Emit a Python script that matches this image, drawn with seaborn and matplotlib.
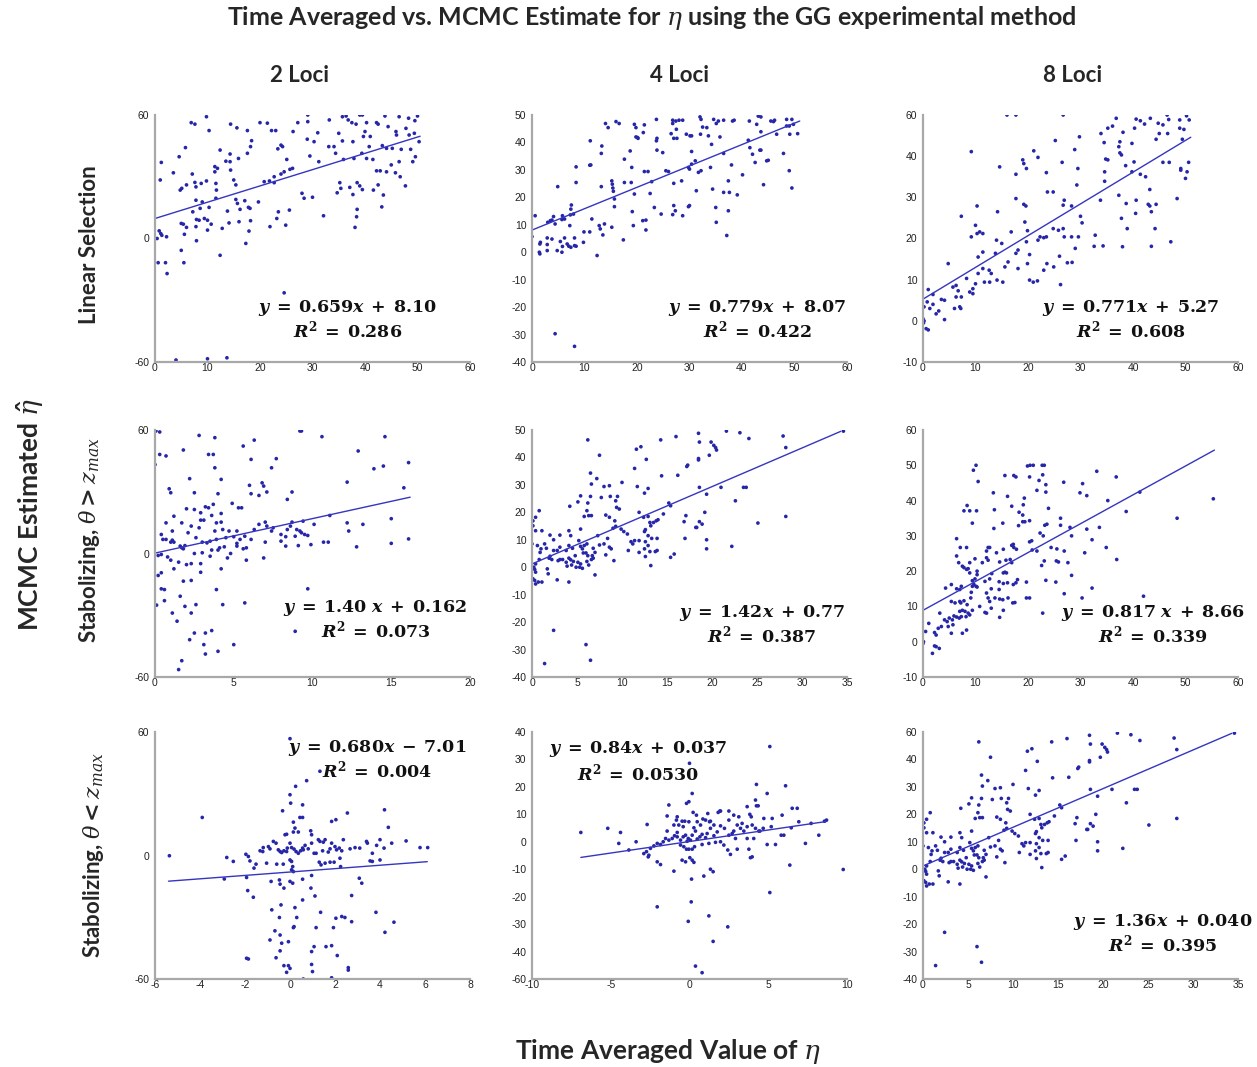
import matplotlib
matplotlib.use("Agg")
import matplotlib.pyplot as plt
import seaborn as sns
import pandas as pd

# ---------------- data ----------------
lin2_pts = [(9.8,49.3),(29.1,50),(29.1,47.3),(33.2,48),(35.7,49.3),(36.4,49.6),(39,50),(39.5,50),(43.8,49.6),(46.5,49.3),(50,49.6),(48.3,48.7),
(6.9,46.9),(7.6,46.3),(14.4,46.3),(15.6,44.8),(20,46.9),(21.4,46.7),(27.2,46.9),(36.8,48),(37.5,46.9),(38.3,46.3),(40.3,46.9),(42.2,46.9),(42.5,46.3),(44.4,45.3),(47.8,44.6),(49.5,47.7),
(10.3,43.7),(17.6,43.7),(22.2,43.7),(23,43.7),(26.3,43.3),(31,42.8),(35,42.6),(40,43.3),(41,41.3),(45.9,43.3),(46,41.9),(48.4,41.9),(49.4,42.6),(39.7,41.3),
(29,40.2),(30.3,39.2),(37.7,39.2),(35.7,39.5),(33.1,37.2),(34.1,37.2),(18.4,39.6),(18.2,37.2),(12.4,35.8),(24,37.8),(24.3,37.2),(23.4,36.3),(40.8,37.2),(43.3,37.6),(50.3,39.2),(44.1,36.5),(45.2,36.5),(46.9,36.1),(48.7,36.1),
(5.8,36.8),(14.3,34.2),(4.6,33.1),(13.5,31.3),(15.9,32.4),(17.6,34.5),(25.1,32),(26.2,28.4),(29.5,33.4),(31.2,31.1),(34.4,34.5),(35.9,32),(37.9,32.4),(40.3,32.4),(41.5,32),(45,29.8),(46.5,31.1),(49.1,31.1),(49.6,33.1),(39.4,34.5),
(1.2,30.8),(11.4,29.1),(11.9,28.4),(11.4,27),(14.4,27.7),(3.5,26.6),(7.1,26.1),(14.3,31.1),(25.7,28),(24.6,27),(24,26.1),(22.7,25),(42.2,27.4),(42.9,27.4),(44.1,27),(45.8,26.6),(46.7,25),
(1,23.7),(6,21.7),(5.1,20.3),(4.8,19.6),(7.6,22.7),(8.8,22.3),(9.8,23.3),(7.8,20.9),(11.6,22.3),(11.7,19.6),(15,23.7),(15.4,21.7),(20.8,23),(21.8,23.3),(22.7,22.6),(35.2,22.6),(37.1,20.7),(38.5,22.6),(39,21.3),(39.5,19.8),(35.4,20.3),(37.7,17.8),(42.5,21.7),(43.5,17.6),(47.7,21.3),(41.6,19.6),(34.7,18.5),
(7.8,15.5),(9,14.8),(11.6,16.3),(15.4,15.8),(15.7,14.2),(17.1,15.3),(17.8,12.6),(19.7,14.8),(16.2,11.8),(18.1,12.2),(8.6,12.2),(10.3,12.6),(7.2,10.8),(13.8,11.1),(23.5,10.8),(25.6,11.5),(28,18.3),(28.4,16.3),(30,16.7),(43.2,12.8),(38.5,11.8),
(5,6.1),(5.4,5.8),(6,4.5),(5.6,1.7),(7.9,7.7),(8.4,7.4),(9.4,8.1),(10,7.4),(10.7,5.8),(7.8,4.8),(10,3.4),(12.8,4.1),(14.1,6.3),(16,6.8),(18.2,7.2),(17.9,3),(21.9,4.8),(23.2,8.1),(24.9,5.4),(32.1,9.2),(38.1,4.5),(38.4,8.8),
(0.8,3.1),(1.1,2),(2.2,0.7),(1.3,1.3),(0.4,0),(7.9,-0.9),(17.3,-2),(5,-4.8),(12.4,-6.8),(0.6,-9.8),(2,-9.8),(2.3,-14.2),(5.5,-9.8),(24.6,-22),(4,-49.2),(10,-48.7),(13.7,-48.3)]

lin4_pts = [(14,46.9),(14.5,45.4),(16,47.6),(16.6,46.9),(19.5,46.6),(19.8,45.4),(21.4,46.4),(21.2,43.6),(20.1,41.8),(19.8,42),(20.2,41.5),(23.7,48.4),(23.8,41.5),(23.7,40.6),(26.8,48.1),(27.4,47.8),(28,48.1),(28.7,48.1),(26.8,46.9),(27.5,44.8),(26.5,43.2),(27,41.5),(27.6,41.5),(32,49.3),(32.2,48.4),(32.5,45.6),(33.3,45.4),(32.1,43),(33.6,42.4),(29.4,43),(30.1,42.4),(34.6,48.4),(35.1,46.9),(35.5,47.8),(36.5,48.1),(35.8,42),(34.2,39.3),(38.5,48.1),(38.2,47.8),(41.4,47.8),(43.1,49.6),(43.6,49.3),(42.8,46.6),(43.6,43.9),(45.5,47.8),(46.2,48.1),(46,47.6),(48.5,48.4),(49.5,48.4),(48.5,46),(49,46),(49.8,46.6),(46.6,43),(49.1,43),(50.6,43.2),(41.2,40.8),(41.5,38.1),(42,35.7),(42.5,32.7),(43.4,37.2),(43.6,37.2),(44.7,33.3),(45,33.5),(44.1,24.6),(47.9,36),(49,29.7),(49.5,23.4),(40.1,28.2),(38,31.8),(37.4,26),(36.5,36),(36.5,21.8),(37.6,21.8),(39.1,20.9),(37.4,15.1),(37.1,6.1),(35,16.3),(35.1,10.9),(34.4,23),(34,30.9),(32.2,29.7),(31.7,29.1),(31.1,33.3),(30.4,32.1),(29.8,30.9),(30,30.3),(30.4,36.7),(30.4,42.4),(31.3,22.4),(30,17),(29.8,16.6),(28.5,26),(28.7,13.3),(27,17),(27.3,15.1),(27,25.1),(26.8,13.7),(25.5,29.7),(26,29.4),(24.6,13.9),(24.9,36.3),(23.8,37.2),(22.8,25.7),(23.3,16.3),(22.1,29.4),(21.4,29.4),(22.5,21.4),(21.1,11.5),(21.7,11.7),(21.7,8.1),(18.7,36.9),(19,30.9),(18.9,25.4),(19.5,21.2),(19.1,14.8),(19.3,9.7),(17.6,33.9),(17.6,25.4),(17.4,4.5),(15.2,26),(15.3,24.8),(15.4,23.4),(15.5,22.2),(15.7,19.4),(15.7,16.6),(15.2,9.1),(13.3,38.7),(13.2,36),(13.2,23.9),(12.8,9.7),(13,8.5),(13.5,6.3),(13.8,10.3),(11.1,40.6),(11,31.7),(11.2,31.8),(11.4,12.1),(11,7.4),(9.8,3.6),(9.9,7.4),(12.4,-1.2),(8.4,31.1),(8.4,25.4),(7.5,17.2),(7.4,15.7),(7.9,13.9),(7.3,13.6),(8.1,5.2),(8.1,2.4),(7.4,1.8),(8.4,2.2),(7.2,9.7),(5.8,13.3),(5.7,11.9),(6.2,12.1),(6.2,5.2),(5.4,3.9),(5.8,2.1),(6.7,3),(7,2.2),(5.7,0),(4.9,23.9),(4.1,13),(4.4,10.3),(3.8,11.7),(3.5,11.5),(3,10.9),(3.8,4.8),(2.9,5.2),(2.9,2.8),(2.9,0.6),(4.8,0.6),(1.6,3.6),(1.5,3),(1.4,0),(1.5,-0.6),(0.6,13.3),(0,5.7),(4.4,-29.7),(8.1,-34.3)]

lin8_pts = [(16,50),(17.7,50),(26.7,50),(36.8,49.2),(40.6,49),(41.4,48.6),(42.2,47.8),(43.3,49.2),(44.8,48),(46.5,50),(46.8,48.9),(48.9,48.8),(50.2,49.8),(50.7,48.8),(35.2,46.8),(33.9,45.5),(36.1,47.3),(38.1,45.8),(40.3,46.8),(45,45.5),(46.6,45.5),(48.9,46.8),(49.7,46.5),(45.7,47.6),
(25.2,43.8),(29.8,44.7),(34.5,43.3),(37.5,43.5),(39.8,43.1),(44.4,44.1),(49.4,44.1),(28.9,41.6),(21.1,41.3),(9.2,41.1),(21.9,39.7),(19,39.1),(19.2,38.2),(34.8,39.3),(35.2,39.1),(37.3,42.3),(37.5,40.8),(37.8,40.3),(45.7,38.5),(46.9,38.5),(50.6,38.5),(26.5,38.5),(29.5,37),(19.7,37),(14.6,37.4),(17.7,35.6),(23.5,36),(34.6,36.2),(34.6,33.9),(39.8,36.2),(41.4,35.6),(42.4,35),(38.6,37.7),(40.2,38.6),(49.1,37),(49.1,36.6),(50,34.6),(50.3,36.2),
(43.2,31.9),(26.9,29.3),(29.3,33),(33.8,29.3),(37.3,30.5),(38.7,28.5),(40.6,29.3),(42.9,28.3),(43.2,27.9),(44.4,28.3),(43.5,26.5),(40.5,26.1),(48.4,29.7),(17.7,29.7),(14.2,26.5),(10.3,27.9),(19.2,28.3),(19.6,27.9),(19.4,24),(23.7,31.3),(24.8,31.3),(26.7,28.1),(28.3,27.9),(30,25.4),(30.3,23.8),(26.7,22.4),(24.8,22.4),(25.8,22),(37.8,24.9),(38.9,22.4),(44.2,22.4),(38,18),(43.5,18.1),(47.2,19.2),(32.6,18.1),(34.3,18.2),(32.8,20.8),(29,17.6),(29.6,20.4),(28.3,20.4),(26.9,20.4),(27.5,14.1),(28.4,14.2),(26,15.7),(24.9,13.1),(26.2,8.8),
(23.5,20.4),(23,20.2),(22.3,20.4),(21.9,19.6),(23.6,13.9),(23,12.3),(21.8,9.7),(19.9,21.9),(19.7,19.2),(20.3,16.1),(19.9,13.9),(20.3,9.9),(21,9.4),(18.1,17.2),(17.7,16.4),(18.1,12.7),(16.8,21.6),(16.2,14.3),(15.6,13.1),(15,18.8),(14,19.6),(13.8,16.4),(14.1,9.9),(15.2,9.4),(12.7,9.4),(11.7,9.4),(13,11.5),(12.6,12.3),(11.4,12.7),(11.4,16.7),(10.8,21.6),(10.3,21.2),(11.4,21.2),(9.2,20.4),(10,23.2),(7.3,25.4),(10.5,15.5),(10.5,11.5),
(9.5,7.8),(9.5,6.6),(10,9),(8.9,7),(8.3,10.3),(6.7,7.3),(7.3,5.8),(7.2,3),(7,3.4),(6.3,5.8),(5.7,8.2),(6.3,8.6),(6,3),(4.8,13.9),(4.1,5),(4.1,0.3),(3,2.4),(3.5,5.2),(2.5,1.7),(1.9,6.4),(1.9,4),(1.3,3),(0.8,4.6),(1,7.6),(0.2,3.4),(0,0.5),(0.2,0),(0.6,-1.9),(1,-2.2),(0.1,-0.5)]

gt2_pts = [(0.06,49.6),(0.3,49.2),(0,36),(0.3,40.1),(0.7,39.5),(1.8,41.9),(2.8,47.8),(3.4,40.1),(3.7,40.1),(3.8,46.9),(3.8,34.7),(4.2,30),(6.3,45.9),(5.6,43.5),(6.1,38.1),(7.4,34.7),(7.7,38.4),(9.2,49.6),(9.3,49.6),(10.6,47.3),(12.9,41.5),(14.6,47.3),(13.9,34.3),(14.5,35.4),(16.1,36.8),(12.2,28.9),(15.8,26.6),
(0.9,26.2),(1,24.6),(2.2,30.3),(2.5,24.6),(4,24.2),(6,27.6),(6.1,24.2),(6.6,23.5),(6.8,28.6),(6.9,27.3),(7.1,24.9),(8.7,24.9),(8.4,21.9),(3.2,18.9),(3.4,18.5),(2.5,17.8),(2.9,16.5),(2,18.1),(3.7,19.9),(3.6,15.4),(4.2,16.2),(4.9,20.3),(5.3,18.5),(5.5,18.5),(4.2,12.7),(3.9,12.4),(2.9,13.5),(3.1,13.5),(1.2,15.1),(0.7,12.4),(1.7,12.4),(2.3,11.1),(1.1,9.1),
(0.4,7.7),(0.5,5.7),(0.7,5.7),(1.1,5.4),(1.2,4.6),(1,4.6),(1.6,3),(1.7,2.3),(1.8,1.9),(1.9,3.2),(2.1,8.4),(2.8,10.4),(2.6,6.4),(3,4.6),(3.3,4.3),(3.5,5),(3.8,9.1),(3.9,5.7),(4.3,9.7),(4.5,6.4),(4.7,9.1),(5,6.8),(5.2,9.1),(5.4,5.7),(5.7,7),(6.1,5.7),(6.3,9.7),(6.6,11.8),(7,12.7),(7.1,11.1),(7.4,9.1),(7.5,10.4),(8,7.7),(8.3,6.8),(8.4,9.7),(8.6,11.1),(8.7,12.7),(8.9,7),(9,9.7),(9.2,9.1),(9.3,8.4),(9.5,7.7),(9.7,7.3),(9.9,3.6),(10.1,11.8),(9.1,3.2),(9.4,13.1),
(11.1,15.4),(12.2,12.4),(12.3,9.1),(13.2,11.8),(10.7,4.6),(11,4.6),(12.8,2.7),(15,14.1),(15,4.1),(16.1,5.9),(8,5),(8.3,3),(7,4.6),(6.9,-1.8),(5.8,-2.7),(5.8,2.3),(5.6,1.9),(5.2,4.1),(5.2,3),(4.8,0),(4.6,-1.8),(4.4,2.7),(4,1.4),(4.2,-6.2),(4.1,2.3),(3.6,1.4),(3.5,-1.1),(3,0.3),(2.9,-4.1),(2.9,-7.6),(2.5,0),(2.3,-4.1),(2,-4.5),(1.8,-11.2),(1.5,-3.5),(1.2,-6.2),(1,-2.7),(0.8,-1.4),(0.4,-0.4),(0.2,-0.8),
(0.2,-8.9),(0.4,-7.8),(0.4,-14.3),(0.6,-14.6),(0.6,-19.1),(0.1,-20.9),(1.1,-24.1),(1.4,-27.4),(1.6,-17.3),(1.9,-21.4),(2.3,-10.9),(2.3,-24.1),(2.5,-32.2),(2.2,-34.9),(2.6,-20.7),(3.2,-32.2),(3.1,-36.9),(3.2,-40.7),(3.6,-31.2),(3.9,-14.6),(4.3,-20.7),(4,-39.6),(5.7,-20),(5,-36.9),(9.7,-14.3),(8.9,-31.5),(1.7,-43.4),(1.5,-47)]

gt4_pts = [(6.2,46.4),(7.5,40.8),(6.5,34.3),(6.6,30.3),(7.2,32.3),(6.5,25.8),(7.7,25.4),(6.2,23.4),(6.1,20.6),(6.3,18.8),(6.6,18.8),(5.8,18.5),(5.4,26),(5.1,23.8),(5.4,13.9),(4.2,22.2),(4.1,13.3),(4.3,11.5),(3.1,11.7),(2.4,10),(2,11.7),(0.8,20.6),(0.4,18.2),(0.1,16.9),(0.1,15.1),(0.4,13.3),(1.1,13.3),(0,8.5),
(8,29.4),(8.6,29.7),(8.7,25.8),(8.2,19),(8.6,18.2),(9.3,24.2),(9.4,21.8),(10,30.9),(9.5,25.8),(9.7,21.2),(9.2,16.9),(9.3,14.9),(9,14.2),(9.9,13.9),(10.2,13),(10.6,12.1),(8.4,10.5),(8,8.5),(8.2,4.5),(8.6,7.3),(8.8,6.7),(9.1,2.4),(7.3,11.5),(7.5,8.1),(6.8,6.9),(7,5.4),(6.8,3.3),(6.6,2.8),(6.7,4.2),(6.1,8.5),(5.8,7.9),(6,5.2),(6.2,4.2),(6.3,0.8),(6.1,2.1),
(5.2,9.7),(5.4,7.6),(5.6,6.7),(5.7,5.2),(5.1,1.8),(5.3,0),(4.9,0),(5.6,-0.4),(5.4,1.2),(4.6,2.1),(4.8,4.2),(4.5,6.9),(4.1,7.9),(3.8,6.1),(3.8,1.8),(4.1,3.3),(4.3,2.7),(4.4,0.8),(3.4,2.8),(3.1,2.8),(2.9,2.4),(2.8,6.1),(3.1,7.3),(2.4,6.1),(2.2,2.8),(1.9,3.3),(2,4),(1.6,6.9),(1.4,8.5),(1,6.7),(0.6,7.9),(0.9,5.4),(0.8,2.8),(0.4,1.2),(0.2,0),(0.3,-0.8),(0.4,-1.8),(0.1,-4.2),(0.3,-4.8),(0.4,-6.1),(0.7,-5.4),(1.1,-5.4),(1.8,-2.4),(2.8,-4.6),(4.1,-5.4),(1.7,-0.6),(7,-2.8),(3.9,0.4),
(2.4,-23),(1.4,-35.1),(6,-28.2),(6.5,-33.9),
(11.4,36),(11.6,43),(12.1,43.9),(12.7,39.3),(12.9,28.7),(12.5,27),(11.7,29.4),(11.9,20),(12.4,18.2),(12.9,18.5),(13.1,16.3),(13.5,16.3),(13.8,16.9),(14,17.3),(13.2,15.1),(12.6,13.7),(12.5,13),(12.9,11.5),(13.3,10.5),(13.9,10.5),(12.6,9.3),(12.9,7.9),(12.5,6.7),(12.6,3.9),(13.1,5.7),(13.7,5.7),(13.2,0.6),(13.9,6.1),(11.9,9.7),(11.4,9.7),(11.2,8.5),(11,9.3),(10.7,6.1),(11.9,5.4),
(14.3,46.4),(14.4,33.3),(14.6,19.4),(15.2,23.4),(15.4,22.4),(15.4,3.6),(15.8,4.8),(16,47.6),(16.2,33.5),(16.9,16.6),(17.1,18.8),(17,10.5),(17.2,36.7),(17.3,37.2),(18.2,14.5),(18.3,14.5),(18.6,16.6),(18.9,15.7),(19.2,20),(18.6,29.1),(18.5,39.1),(18.5,39.6),(18.5,48.8),(18.6,45.6),(19.4,26.6),(19.4,10),(19.4,6.7),(19.9,45.6),(20.2,44.4),(20.4,43.6),(20.5,42.7),(19.7,40.8),(21,29.1),(21.6,49.6),(22.6,24.2),(22.2,7.6),(23.1,49),(23.5,29.1),(23.8,29.1),(24.1,46.9),(25.1,16.1),(27.9,47.8),(28.2,43.6),(28.2,18.5),(34.6,49.6)]

gt8_pts = [(10.1,50),(10.5,45.4),(9.6,48.6),(9.4,33.6),(8.9,37.1),(8.4,38.6),(7.8,37.1),(10.2,37.1),(6.4,29.2),(7.1,26.7),(6.8,22.4),(8.9,22.4),(7.5,21.4),(7.8,21),(8.3,20.5),(8.6,20.7),(8.9,19.5),(9.9,23.5),(10.3,19),(9.9,17.8),(9.4,17.3),(9.7,16.2),(10.1,15.7),(10.3,15.5),(9.4,15.7),(9.2,14),(9.1,12.4),(7.3,15.7),(7,14.8),(6.4,15),(5.4,16.2),(4.3,15.2),
(5.4,11.4),(6.1,11),(7,11.4),(7.2,11),(7.8,11.6),(8.4,10.5),(7,8.6),(7.5,8.9),(8,8.6),(8.6,8.1),(9.4,8.9),(8.9,7.6),(8.2,7.1),(7.3,7.1),(6.9,6.7),(6.4,7),(5.9,7.3),(5.6,6.2),(5.7,4.8),(5,6.7),(4.1,6.2),(4.6,5.7),(4.8,4.3),(5.4,2.4),(7.5,2.4),(8.3,3.3),(3.5,4.3),(3.2,8.1),(2.9,3.8),(2.2,2.6),(2.5,1.9),(3.1,-1.9),(2.5,-1.4),(1.8,-3.3),(2.2,-1.2),(1.1,5.2),(0.5,2.9),(0.1,0),(0,-0.5),
(8.3,26.7),(6.4,24.3),(12.1,25.7),(12.4,26.7),(12.7,26.7),(12.1,23.8),(12.4,23.1),(11.3,22.4),(10.3,20),(11.8,17.1),(12.7,17.8),(13.1,19.3),(13,15),(12.1,13.8),(12.4,12.4),(11.8,8.3),(12.1,8.1),(10.8,10),(13,9.5),(12.7,11.4),(13.7,12.4),(14,25.2),(13.5,32.1),(13.6,37.4),(13.4,42.2),(15.2,33.6),(15.3,26.2),(15.8,23.1),(14.6,22.6),(15.3,19.5),(15.9,19.5),(15.6,19.7),(14.5,17),(15.3,16.5),(16.1,16.7),(14.5,14.8),(14.6,12.1),(15.2,11.9),(16.2,12.4),(14.6,6.9),(15.3,8.9),
(15.6,47.1),(16.1,41.2),(16.9,38.4),(17.3,47.1),(17.7,46.7),(16.9,27.3),(17.2,27.6),(17.3,26.7),(16.6,23.3),(16.9,22.4),(17.8,26.2),(17.2,16.2),(17.7,16.7),(17.1,11),(17.5,11.1),(18,17.6),(18.2,32.9),(18.3,36.7),(19,35.9),(19,34),(19.4,34),(19.3,40.7),(19.1,38.8),(19.9,49.8),(20.4,50),(20.3,46.7),(21,50),(19.7,16.9),(19.7,12.4),(20.3,12.4),(20.3,28.3),(20.3,34.3),(20.7,28.6),(20.8,26),
(21.7,42.9),(22.1,45.7),(22.7,50),(23.1,50),(22.8,47.3),(22.9,30),(23.1,22.9),(23.4,17.4),(22.8,8.1),(23.4,44.5),(23.4,42.4),(23.2,33),(23.6,33.3),(23.9,37.8),(22.3,30.8),(22.6,21.6),(21.7,25.7),(24.4,26.7),(25.5,26.3),(25.4,22.9),(25.8,22.6),(25.3,16.9),(26.2,33),(26.8,45.2),(26.9,25.7),(26.2,35),(26.9,13.6),(27.6,22.4),(28,32.4),(28.3,18.8),(28.3,30),
(30.4,44.8),(29.9,42.2),(31.2,41.4),(30.3,12.4),(30.8,25.2),(31.2,31.9),(32.2,28.9),(32.2,15.2),(33.1,48.3),(33.6,32.4),(35.2,40),(34.9,26.7),(36.8,46.7),(36.9,23.3),(38.7,36.9),(41.3,42.4),(42,12.9),(48.4,35),(55.3,40.5)]

lt2_pts = [(0,47.3),(0.25,28),(0.74,30.3),(1.33,34.1),(0,24.6),(0.03,21.2),(0.56,20.5),(-0.33,18.1),(0.44,15.4),(0.56,15.4),(-3.9,15.4),(2.55,17.2),(1.85,13.8),(2.04,14.5),(4.2,18.5),(4.37,11.4),(0.15,13.5),(-0.22,8.4),(-0.15,8.6),(0.15,9.5),(0.37,9.5),(0.92,10),(0.96,8.4),(0.22,11.1),
(-0.74,5.7),(-0.62,5),(-0.96,3.6),(-0.89,2.7),(-1.19,3.2),(-1.33,1.9),(-1.21,1.6),(-0.52,2.3),(-0.44,1.6),(-0.37,1.2),(-0.27,1.9),(-0.15,1.6),(-0.12,3),(0,5),(0.07,3.2),(0.18,2.6),(0.27,1.6),(0.37,0.9),(0.47,1.9),(0.56,3),(0.59,2.3),(0.67,4.1),(0.81,2.7),(0.96,5),(1.07,0.9),(1.16,0.9),(1.26,6.4),(1.33,5.7),(1.48,5.4),(1.56,6.4),(1.45,1.9),(1.7,1.4),(1.78,2.7),(1.85,5),(2,3.6),(2.07,2.3),(2.19,3),(2.3,1.9),(2.37,6.4),(2.67,2.7),(2.89,3.2),(3.1,3),(3.4,5.7),(3.44,5),(3.66,0.9),(3.85,4.1),(4,6.4),(4.18,3),(4.52,5),(5.16,5.9),(5.78,3.2),(6.12,3.2),
(-5.36,-0.1),(-2.81,-0.8),(-2.52,-2.4),(-1.96,0.5),(-1.85,-0.4),(-1.78,-2.2),(-1.6,-5.1),(-1.51,-3.5),(-1.04,-3.1),(-0.59,-3.5),(-0.3,-3.5),(0,-1.8),(0.07,-2.4),(0.12,-4.5),(0.07,-5.8),(0.15,-6.5),(1.3,-2.7),(1.38,-3.8),(1.56,-3.1),(1.78,-2.7),(1.96,-2.7),(2.22,-1.1),(2.25,-4.5),(3.56,-2.2),(3.66,-2.4),(4,-1.8),(3.08,-9.2),(3.19,-11.2),
(-2.92,-9.5),(-1.93,-8.9),(-1.88,-14.2),(-1.63,-16.9),(-0.84,-10.5),(-0.47,-9.9),(-0.44,-11.6),(-0.27,-13.2),(0,-10.5),(0.12,-11.2),(0.56,-9.6),(0.96,-8.1),(0.93,-13.2),(1.11,-16.4),(0.56,-18),(2.74,-16.2),(-0.4,-20),(-0.81,-22),(0.22,-21.1),(-0.47,-25.1),(0.3,-25.1),(0.18,-28.8),(0.15,-29.2),(1.36,-23),(1.16,-29.2),(1.93,-29.2),(2.04,-25.4),(2.3,-24.7),(2.44,-25.1),(2.74,-26.8),(3.82,-23),(4.62,-27),(4.22,-31.1),
(-0.67,-30.5),(-0.89,-34.2),(-0.44,-32.2),(-0.37,-35.5),(-0.07,-34.9),(-0.44,-38.6),(-0.62,-41.4),(1.07,-36.9),(0.96,-38.9),(1.6,-36.9),(1.85,-36.5),(2.1,-40.5),(-1.93,-41.6),(-1.85,-41.9),(-0.27,-44.6),(-0.07,-44.6),(0,-45.7),(-0.15,-47.3),(0.96,-44.1),(1,-47),(2.59,-45.4),(2.59,-46.4),(0.59,-50),(1.85,-49.5)]

lt4_pts = [(5.1,34.7),(0,28.6),(0.17,17.6),(-0.04,14.6),(-0.19,14),(0.23,10.7),(-1.31,13.4),(4.93,17.6),(6.1,20.4),(4.25,20.9),(4.19,15.2),(4.25,13.1),(4.36,13.1),(3.66,12.8),(1.93,11.2),(1.97,11.2),(2.5,11.2),(1.16,10.3),(0.44,9.7),(-0.78,9.1),(-0.83,7.9),(-0.47,7.5),(-0.3,7.5),(0.85,8.3),(1.02,7.9),(1.27,7.3),(1.33,7.5),(2.5,7.9),(3.13,9.1),(3.83,10),(3.92,9.1),(4.72,8.5),(5.25,8.5),(5.88,9.7),(6.52,12.2),(6.84,12.2),(6.94,7.3),(8.57,7.5),(8.7,7.9),(7.72,6.7),(5.82,2.4),(6.46,5.1),(6.37,-8.5),
(5.19,5.5),(4.68,4.9),(4.47,3.9),(4.19,4.9),(3.98,6.1),(3.66,5.5),(3.45,3.9),(3.24,4.9),(3.03,6.1),(2.81,3.9),(2.71,3),(2.5,2.4),(2.22,4.9),(1.97,5.8),(1.76,3.6),(1.55,2.2),(1.33,4.9),(1.12,3),(1.02,1.5),(0.8,2.7),(0.66,1.8),(0.49,1),(0.38,3.9),(0.28,5.1),(0.17,2.4),(0.06,0.6),(-0.08,1.2),(-0.15,0.2),(-0.25,2.4),(-0.4,1.8),(-0.57,0.6),(-0.78,1.8),(-0.95,2.2),(-1.1,1.2),(-1.31,0.6),(-1.52,1.2),(-1.67,0),(-1.84,-1),(-2.05,-0.6),(-2.26,-1.5),(-2.48,-2.4),(-2.73,-3.6),(-2.9,-4.3),(-2.58,-4.9),
(-0.57,-1.2),(-0.36,-1.8),(-0.19,-2.7),(-0.04,-2.7),(0.17,-2.7),(0.32,-1.8),(0.8,-1),(1.23,-0.6),(1.65,-0.2),(1.97,0),(2.18,-1.2),(2.43,-3),(2.6,-4.6),(3.03,-2.7),(3.77,-2.7),(3.87,-5.8),(3.98,-5.5),(4.93,-1),(5.46,-1),(7.36,-0.6),(8.21,2.4),(9.76,-10.1),(-0.47,-6.7),(-0.25,-7.3),(0.02,-5.8),(0.17,-6.7),(0.28,-7.5),(-0.99,-10.7),(-2.05,-7.3),(-1.84,-8.3),(1.33,-10),(1.5,-10.9),(0.91,-12.5),(0.13,-13.6),
(5.1,-18.5),(-2.05,-23.7),(0.11,-21.9),(-0.08,-29),(1.23,-27),(2.43,-31),(1.5,-36.3),(0.38,-45.3),(0.8,-47.7),
(-6.9,3.4),(-5.19,4.9),(-4.38,3.4),(-4.49,-0.6),(-3.39,0),(-3.85,-3),(-2.69,6.3),(-2.62,-5.5),(-1.42,3.9),(-1.42,9.4),(-0.99,6.1),(-0.78,3.4),(-0.68,6.1),(-0.4,5.5),(-0.04,7.3),(0.49,7.3),(0.7,6.1),(1.55,6.1),(1.82,10.7),(2.81,9.7),(3.34,6.7),(2.92,1.2),(3.66,1.2),(4.08,1.2),(4.4,3.9),(5.99,2.4)]

# the bottom-right panel shows the same cloud of points as the centre panel
lt8_pts = gt4_pts

# fitted lines as drawn in the reference: (x_start, x_end), (y_start, y_end)
lin2_fit = ((0, 50.5), (8.1, 41.4))
lin4_fit = ((0, 51), (8.07, 47.8))
lin8_fit = ((0, 51), (5.27, 44.6))
gt2_fit = ((0, 16.2), (0.16, 22.8))
gt4_fit = ((0, 34.3), (1.2, 49.5))
gt8_fit = ((0, 55.5), (8.9, 54.3))
lt2_fit = ((-5.4, 6.1), (-10.4, -2.5))
lt4_fit = ((-6.9, 8.7), (-5.7, 7.4))
lt8_fit = ((0, 34.3), (1.2, 49.5))

S = r'\;'
equations = [
    (r'$\mathbfit{y}\;=\;0.659\mathbfit{x}\;+\;8.10$', r'$\mathbfit{R}^{2}\;=\;0.286$'),
    (r'$\mathbfit{y}\;=\;0.779\mathbfit{x}\;+\;8.07$', r'$\mathbfit{R}^{2}\;=\;0.422$'),
    (r'$\mathbfit{y}\;=\;0.771\mathbfit{x}\;+\;5.27$', r'$\mathbfit{R}^{2}\;=\;0.608$'),
    (r'$\mathbfit{y}\;=\;1.40\ \mathbfit{x}\;+\;0.162$', r'$\mathbfit{R}^{2}\;=\;0.073$'),
    (r'$\mathbfit{y}\;=\;1.42\mathbfit{x}\;+\;0.77$', r'$\mathbfit{R}^{2}\;=\;0.387$'),
    (r'$\mathbfit{y}\;=\;0.817\ \mathbfit{x}\;+\;8.66$', r'$\mathbfit{R}^{2}\;=\;0.339$'),
    (r'$\mathbfit{y}\;=\;0.680\mathbfit{x}\;-\;7.01$', r'$\mathbfit{R}^{2}\;=\;0.004$'),
    (r'$\mathbfit{y}\;=\;0.84\mathbfit{x}\;+\;0.037$', r'$\mathbfit{R}^{2}\;=\;0.0530$'),
    (r'$\mathbfit{y}\;=\;1.36\mathbfit{x}\;+\;0.040$', r'$\mathbfit{R}^{2}\;=\;0.395$'),
]

col_titles = ['2 Loci', '4 Loci', '8 Loci']
row_titles = ['Linear Selection', r'Stabolizing, $\theta > z_{max}$', r'Stabolizing, $\theta < z_{max}$']

# tick values and the labels printed in the reference
xticks = [list(range(0, 61, 10)), list(range(0, 61, 10)), list(range(0, 61, 10)),
          list(range(0, 21, 5)), list(range(0, 36, 5)), list(range(0, 61, 10)),
          list(range(-6, 9, 2)), list(range(-10, 11, 5)), list(range(0, 36, 5))]
yticks = [[-50, 0, 50], list(range(-40, 51, 10)), list(range(-10, 51, 10)),
          [-50, 0, 50], list(range(-40, 51, 10)), list(range(-10, 61, 10)),
          [-50, 0, 50], list(range(-50, 41, 10)), list(range(-40, 51, 10))]
ytick_labels = [['-60', '0', '60'], None, ['-10', '0', '10', '20', '30', '40', '60'],
                ['-60', '0', '60'], None, None,
                ['-60', '0', '60'], ['-60', '-40', '-30', '-20', '-10', '0', '10', '20', '30', '40'],
                ['-40', '-30', '-20', '-10', '0', '10', '20', '30', '40', '60']]

panels = [lin2_pts, lin4_pts, lin8_pts, gt2_pts, gt4_pts, gt8_pts, lt2_pts, lt4_pts, lt8_pts]
fits = [lin2_fit, lin4_fit, lin8_fit, gt2_fit, gt4_fit, gt8_fit, lt2_fit, lt4_fit, lt8_fit]

# equation placement (axes fraction)
eq_pos = [(0.61, 0.22, 0.13), (0.715, 0.22, 0.13), (0.66, 0.22, 0.13),
          (0.70, 0.28, 0.19), (0.73, 0.26, 0.17), (0.73, 0.26, 0.17),
          (0.705, 0.935, 0.845), (0.335, 0.93, 0.835), (0.76, 0.23, 0.14)]

# ---------------- style ----------------
sns.set_style('white')
plt.rcParams['font.family'] = ['Liberation Sans', 'DejaVu Sans']
plt.rcParams['axes.unicode_minus'] = False
plt.rcParams['mathtext.fontset'] = 'custom'
plt.rcParams['mathtext.rm'] = 'DejaVu Serif:bold'
plt.rcParams['mathtext.bf'] = 'DejaVu Serif:bold'
plt.rcParams['mathtext.it'] = 'DejaVu Serif:italic'
plt.rcParams['mathtext.bfit'] = 'DejaVu Serif:italic:bold'

W, H = 1257, 1067
fig = plt.figure(figsize=(W / 100, H / 100), dpi=100)
fig.patch.set_facecolor('white')

lefts = [155, 532, 923]
tops = [115, 430, 732]
aw, ah = 315, 247

dot_color = '#2626a8'
line_color = '#3535c0'
label_font = ['Lato', 'DejaVu Sans']

for i, pts in enumerate(panels):
    r, c = divmod(i, 3)
    ax = fig.add_axes([lefts[c] / W, 1 - (tops[r] + ah) / H, aw / W, ah / H])
    df = pd.DataFrame(pts, columns=['x', 'y'])
    sns.scatterplot(data=df, x='x', y='y', ax=ax, s=7, color=dot_color,
                    edgecolor='none', linewidth=0, marker='o')
    fx, fy = fits[i]
    sns.lineplot(x=list(fx), y=list(fy), ax=ax, color=line_color, linewidth=1.0)
    ax.set_xlim(xticks[i][0], xticks[i][-1])
    ax.set_ylim(yticks[i][0], yticks[i][-1])
    ax.set_xticks(xticks[i])
    ax.set_yticks(yticks[i])
    if ytick_labels[i] is not None:
        ax.set_yticklabels(ytick_labels[i])
    ax.set_xlabel('')
    ax.set_ylabel('')
    for s in ['top', 'right']:
        ax.spines[s].set_visible(False)
    for s in ['left', 'bottom']:
        ax.spines[s].set_color('#a8a8a8')
        ax.spines[s].set_linewidth(1.6)
    ax.tick_params(axis='x', direction='in', length=3, width=0.8, colors='#777777',
                   labelsize=7.5, labelcolor='#222222', pad=1)
    ax.tick_params(axis='y', direction='out', length=3, width=0.8, colors='#777777',
                   labelsize=7.5, labelcolor='#222222', pad=1)
    ax.set_facecolor('white')
    ex, ey1, ey2 = eq_pos[i]
    eq1, eq2 = equations[i]
    ax.text(ex, ey1, eq1, transform=ax.transAxes, ha='center', va='center',
            fontsize=12.5, color='#111111')
    ax.text(ex, ey2, eq2, transform=ax.transAxes, ha='center', va='center',
            fontsize=12.5, color='#111111')

# titles and labels
fig.text(652 / W, 1 - 18 / H, r'Time Averaged vs. MCMC Estimate for $\eta$ using the GG experimental method',
         ha='center', va='center', fontsize=18, fontweight='bold', family=label_font)
for c, (xp, t) in enumerate(zip([300, 680, 1073], col_titles)):
    fig.text(xp / W, 1 - 75 / H, t, ha='center', va='center', fontsize=16,
             fontweight='bold', family=label_font)
for r, (yp, xp, t) in enumerate(zip([245, 540, 855], [90, 90, 93], row_titles)):
    fig.text(xp / W, 1 - yp / H, t, ha='center', va='center', rotation=90,
             fontsize=16, fontweight='bold', family=label_font)
fig.text(30 / W, 1 - 515 / H, r'MCMC Estimated $\hat{\eta}$', ha='center', va='center',
         rotation=90, fontsize=19, fontweight='bold', family=label_font)
fig.text(668 / W, 1 - 1052 / H, r'Time Averaged Value of $\eta$', ha='center', va='center',
         fontsize=19, fontweight='bold', family=label_font)

fig.savefig('out.png', dpi=100, facecolor='white')
